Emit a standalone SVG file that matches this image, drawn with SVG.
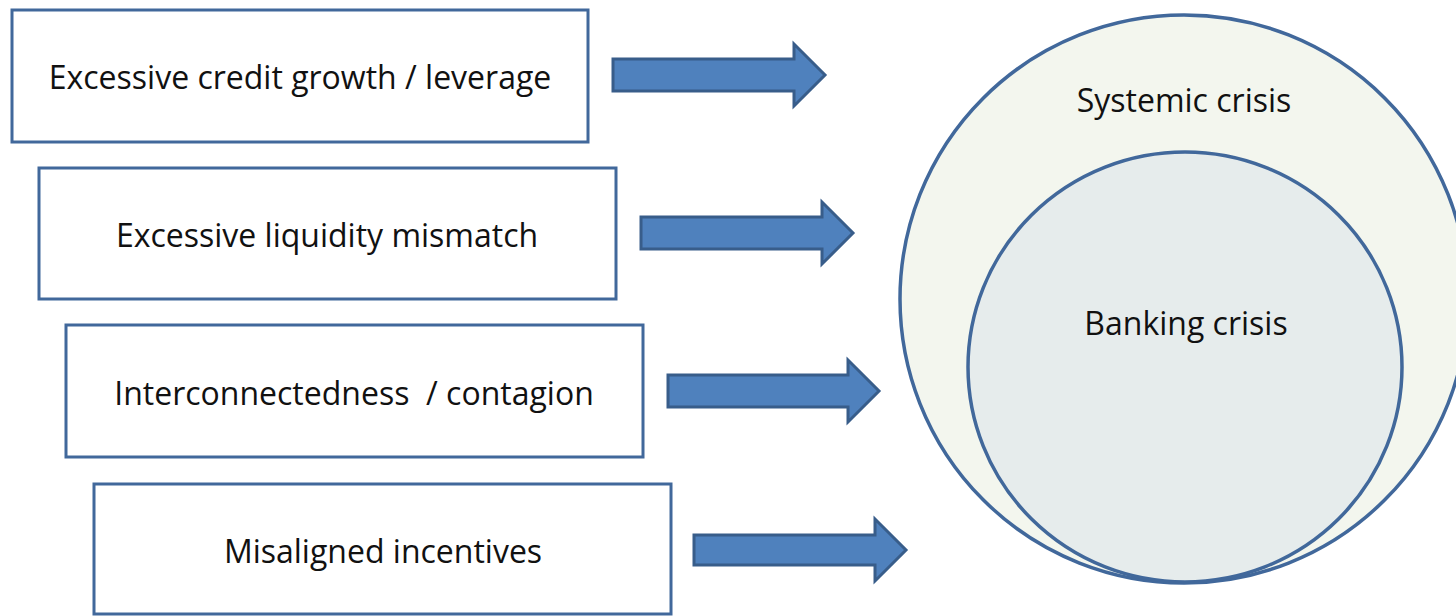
<svg xmlns="http://www.w3.org/2000/svg" width="1456" height="616" viewBox="0 0 1456 616">
<style>
.box{fill:#ffffff;stroke:#41689b;stroke-width:3}
.arrow{fill:#4f81bd;stroke:#385d8a;stroke-width:3;stroke-linejoin:miter}
.lbl{font-family:"Open Sans","Liberation Sans",sans-serif;font-size:32px;fill:#111111;text-anchor:middle;white-space:pre}
.outer{fill:#f3f6ee;stroke:#41689b;stroke-width:3.5}
.inner{fill:#e6ecec;stroke:#41689b;stroke-width:3.5}
</style>
<rect width="1456" height="616" fill="#ffffff"/>
<g id="systemic">
<ellipse class="outer" cx="1184" cy="299" rx="284" ry="284"/>
<text class="lbl" x="1184" y="112">Systemic crisis</text>
</g>
<g id="banking">
<ellipse class="inner" cx="1185" cy="367" rx="217" ry="215"/>
<text class="lbl" x="1186" y="335">Banking crisis</text>
</g>
<g id="n1">
<rect class="box" x="12" y="10" width="576" height="132"/>
<text class="lbl" x="300" y="89">Excessive credit growth / leverage</text>
</g>
<g id="n2">
<rect class="box" x="39" y="168" width="577" height="131"/>
<text class="lbl" x="327" y="247">Excessive liquidity mismatch</text>
</g>
<g id="n3">
<rect class="box" x="66" y="325" width="577" height="132"/>
<text class="lbl" x="354" y="405">Interconnectedness  / contagion</text>
</g>
<g id="n4">
<rect class="box" x="94" y="484" width="577" height="130"/>
<text class="lbl" x="383" y="563">Misaligned incentives</text>
</g>
<g id="connectors">
<path class="arrow" d="M613,59 H794 V44 L825,75 L794,106 V91 H613 Z"/>
<path class="arrow" d="M641,217 H822 V202 L853,233 L822,264 V249 H641 Z"/>
<path class="arrow" d="M668,375 H848 V360 L879,391 L848,422 V407 H668 Z"/>
<path class="arrow" d="M694,535 H875 V519 L906,550 L875,581 V565 H694 Z"/>
</g>
</svg>
